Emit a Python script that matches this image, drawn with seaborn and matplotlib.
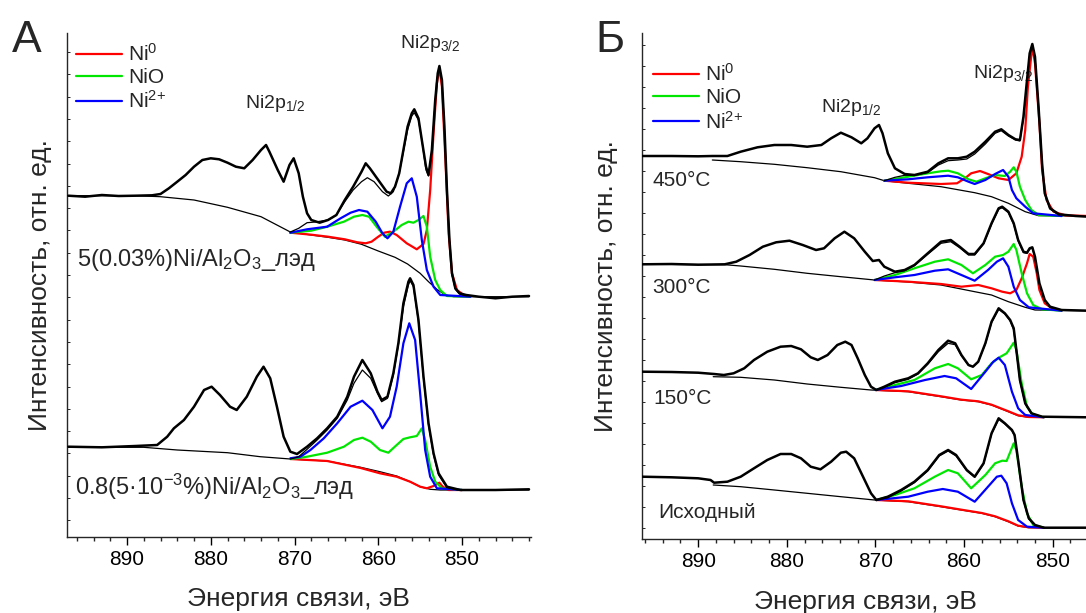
import matplotlib
matplotlib.use("Agg")
import numpy as np
import pandas as pd
import matplotlib.pyplot as plt
from matplotlib.ticker import MultipleLocator, FixedLocator
import seaborn as sns

# ---------------- data (binding energy eV, intensity a.u.) ----------------
# Panel A, upper spectrum: 5(0.03%)Ni/Al2O3
A1_raw = [(897, 341.0), (895, 340.0), (893, 341.7), (891, 340.7), (889, 341.0), (887, 341.4), (886, 342.7),
          (885, 348.4), (884, 355.0), (883, 361.7), (882, 370.0), (881, 376.7), (880, 378.4), (879, 377.4),
          (878, 374.0), (877, 370.0), (876, 368.4), (875, 376.7), (874, 386.7), (873.4, 391.7), (873, 385.0),
          (872, 366.7), (871.3, 355.0), (870.6, 371.7), (870.1, 378.4), (869.5, 363.4), (869, 340.0),
          (868.5, 323.4), (868, 316.7), (867, 314.0), (866, 316.7), (865, 321.7), (864, 336.7), (863, 350.0),
          (862, 365.0), (861.5, 373.4), (861, 368.4), (860, 356.7), (859, 345.0), (858.5, 343.4), (858, 350.0),
          (857.5, 363.4), (857, 386.7), (856.5, 410.0), (856, 423.4), (855.7, 427.4), (855.2, 418.4),
          (854.8, 396.7), (854.3, 370.0), (854.0, 361.7), (853.6, 386.7), (853.2, 436.7), (852.9, 463.4),
          (852.7, 470.7), (852.4, 456.7), (852.1, 410.0), (851.8, 346.7), (851.5, 296.7), (851.2, 263.4),
          (850.8, 248.4), (850.3, 243.4), (849.5, 241.7), (848, 240.0), (846, 238.4), (844, 240.0), (842, 240.7)]
A1_bg = [(897, 341.0), (889, 341.0), (886, 340.0), (882, 336.7), (878, 329.4), (874, 320.0), (870.5, 304.7),
         (868, 301.7), (866, 299.4), (864, 296.7), (862, 292.4), (860, 285.7), (858, 279.4), (856.5, 272.7),
         (855, 263.4), (854, 255.0), (853, 247.4), (852, 241.7), (851, 240.0), (842, 240.0)]
A1_env = [(870.5, 304.7), (869.5, 308.4), (868.5, 314.0), (867.5, 314.7), (866, 316.7), (865, 321.7), (864, 335.0),
          (863, 346.7), (862, 355.0), (861.3, 359.0), (860.5, 355.0), (859.5, 345.0), (858.8, 340.7), (858.2, 345.0),
          (857.5, 363.4), (857, 385.0), (856.5, 406.7), (856, 420.7), (855.7, 424.0), (855.2, 416.7), (854.8, 396.7),
          (854.3, 366.7), (854.0, 360.7), (853.6, 385.0), (853.2, 435.0), (852.9, 461.7), (852.7, 468.4),
          (852.4, 455.0), (852.1, 406.7), (851.8, 343.4), (851.5, 295.0), (851.2, 261.7), (850.8, 247.4),
          (850.3, 242.7), (849.5, 240.7)]
A1_ni0 = [(870.5, 304.0), (868, 302.0), (866, 300.0), (864, 297.4), (862.5, 294.4), (861.5, 293.4), (860.8, 295.0),
          (860.0, 300.0), (859.3, 304.0), (858.6, 305.0), (857.8, 301.7), (856.6, 293.4), (855.4, 287.4),
          (854.6, 292.7), (854.2, 306.7), (853.8, 346.7), (853.4, 403.4), (853.0, 453.4), (852.7, 468.4),
          (852.4, 450.0), (852.0, 380.0), (851.6, 303.4), (851.2, 263.4), (850.6, 246.7), (849.8, 241.7), (849, 240.0)]
A1_nio = [(870.5, 304.0), (868, 306.0), (866.1, 310.0), (864.1, 315.0), (862.9, 320.0), (861.9, 321.7), (861.1, 320.0),
          (860.2, 310.0), (859.2, 300.0), (858.2, 305.0), (857.2, 311.7), (856.4, 315.0), (855.8, 314.0),
          (855.2, 316.7), (854.6, 320.7), (854.2, 310.0), (853.8, 280.0), (853.2, 256.7), (852.6, 246.7),
          (851.8, 240.7), (849, 240.0)]
A1_ni2 = [(870.5, 304.0), (868.5, 307.4), (866.1, 310.0), (864.5, 318.4), (863.3, 324.0), (862.3, 326.7), (861.3, 325.0),
          (860.3, 315.0), (859.5, 303.4), (858.9, 298.4), (858.2, 305.0), (857.4, 330.0), (856.6, 353.4), (856.0, 358.4),
          (855.4, 340.0), (854.8, 296.7), (854.2, 266.7), (853.4, 250.0), (852.6, 241.7), (849, 240.0)]

# Panel A, lower spectrum: 0.8(5e-3%)Ni/Al2O3
A2_raw = [(897, 90.0), (893, 89.4), (889, 90.7), (886.4, 91.7), (885.2, 100.0), (884.4, 108.4), (883.2, 116.7),
          (882, 130.0), (880.8, 146.7), (879.9, 150.0), (878.9, 141.7), (877.7, 130.0), (876.9, 126.7), (875.7, 140.0),
          (874.5, 160.0), (873.7, 170.0), (872.9, 158.4), (872.1, 130.0), (871.3, 100.0), (870.5, 85.0), (869.7, 82.7),
          (868.5, 90.0), (867.3, 98.4), (866.1, 108.4), (864.9, 120.0), (863.7, 140.0), (862.9, 160.0), (861.9, 176.7),
          (860.9, 163.4), (860.1, 145.0), (859.6, 136.7), (858.9, 140.0), (858.2, 163.4), (857.6, 193.4), (857.0, 233.4),
          (856.4, 255.0), (856.2, 258.4), (855.8, 251.7), (855.2, 216.7), (854.6, 160.0), (854.0, 113.4), (853.4, 83.4),
          (852.8, 63.4), (851.8, 50.0), (850.2, 46.7), (846, 46.7), (842, 47.4)]
A2_bg = [(897, 89.4), (888, 89.4), (884, 86.7), (878, 84.0), (874.1, 80.0), (870.5, 77.7), (866.1, 75.7), (862.1, 69.4),
         (859.8, 65.0), (857.8, 60.7), (856.2, 55.0), (855.0, 50.0), (853.8, 47.4), (852.6, 46.7), (842, 46.7)]
A2_env = [(870.5, 77.7), (869.5, 80.0), (868.5, 87.4), (867.3, 96.7), (866.1, 106.7), (864.9, 118.4), (863.7, 136.7),
          (862.9, 153.4), (861.9, 166.7), (860.9, 158.4), (860.1, 143.4), (859.6, 135.0), (858.9, 138.4), (858.2, 161.7),
          (857.6, 191.7), (857.0, 230.0), (856.4, 251.7), (856.2, 256.0), (855.8, 250.0), (855.2, 215.0), (854.6, 158.4),
          (854.0, 111.7), (853.4, 81.7), (852.8, 61.7), (851.8, 49.0), (850.5, 46.7)]
A2_ni0 = [(870.5, 77.7), (866.1, 75.7), (862.1, 68.7), (859.8, 63.4), (857.8, 60.0), (856.2, 55.0), (855.0, 50.0),
          (854.2, 48.4), (853.4, 50.7), (852.7, 54.0), (852.3, 50.0), (851.6, 46.7), (850, 46.7)]
A2_nio = [(870.5, 77.7), (868.5, 80.0), (866.1, 84.0), (864.1, 90.0), (862.9, 96.7), (861.9, 99.0), (860.9, 95.0),
          (859.8, 86.7), (858.8, 84.0), (857.8, 91.7), (857.0, 97.7), (856.2, 99.4), (855.4, 100.7), (854.8, 108.4),
          (854.4, 96.7), (853.8, 70.0), (853.2, 55.0), (852.4, 48.4), (850, 46.7)]
A2_ni2 = [(870.5, 78.4), (869.3, 80.0), (868.1, 86.7), (866.5, 98.4), (864.9, 113.4), (863.3, 130.0), (861.9, 136.0),
          (860.7, 126.7), (859.5, 108.4), (858.6, 120.0), (857.8, 150.0), (857.0, 193.4), (856.3, 213.4), (855.6, 196.7),
          (855.0, 143.4), (854.4, 86.7), (853.8, 60.0), (853.0, 48.4), (850, 46.7)]

# Panel B: 450 C
B1_raw = [(896.3, 383.3), (893, 383.3), (890, 383.0), (888.4, 383.3), (886.7, 383.3), (885.2, 387.6), (883.3, 392.0),
          (881.4, 394.3), (879.5, 394.3), (877.7, 392.6), (876.1, 394.3), (875.0, 401.0), (873.9, 406.6), (872.7, 402.0),
          (871.6, 396.0), (870.9, 401.0), (870.1, 411.0), (869.6, 414.3), (869.2, 406.0), (868.6, 386.0), (867.8, 371.0),
          (866.7, 365.3), (865.6, 364.3), (864.1, 367.6), (862.9, 376.0), (861.8, 381.0), (860.7, 381.0), (859.7, 382.6),
          (858.8, 387.6), (857.6, 397.6), (856.5, 407.6), (855.8, 410.0), (855.0, 404.3), (854.2, 400.0), (853.7, 399.3),
          (853.3, 422.6), (852.9, 459.3), (852.6, 486.0), (852.3, 495.3), (852.0, 482.6), (851.6, 432.6), (851.2, 376.0),
          (850.9, 346.0), (850.3, 331.0), (849.3, 325.0), (847.4, 323.3), (846.0, 322.6)]
B1_bg = [(888.4, 379.3), (885.2, 377.6), (881.4, 375.0), (877.7, 371.6), (873.9, 367.6), (870.1, 361.6), (869.0, 358.6),
         (866.3, 356.0), (862.6, 352.6), (858.8, 346.6), (856.9, 342.6), (855.0, 336.0), (853.1, 327.6), (851.6, 323.6),
         (846.0, 323.3)]
B1_env = [(869.0, 358.6), (867.8, 362.0), (866.7, 364.0), (865.6, 364.0), (864.1, 366.6), (862.9, 374.3), (861.8, 378.6),
          (860.7, 379.3), (859.7, 380.3), (858.8, 385.3), (857.6, 395.3), (856.5, 406.0), (855.8, 408.6), (855.0, 403.3),
          (854.2, 399.3), (853.7, 398.3), (853.3, 421.0), (852.9, 457.6), (852.6, 484.3), (852.3, 494.0), (852.0, 481.0),
          (851.6, 431.0), (851.2, 374.3), (850.9, 345.3), (850.3, 330.3), (849.3, 324.3)]
B1_ni0 = [(869.0, 358.6), (866.3, 356.6), (862.6, 355.3), (860.8, 356.0), (859.9, 361.0), (859.2, 366.0), (858.2, 368.3),
          (857.3, 365.3), (856.1, 361.0), (855.0, 359.3), (854.1, 366.0), (853.5, 382.6), (853.1, 409.3), (852.8, 452.6),
          (852.3, 493.3), (852.0, 476.0), (851.5, 416.0), (851.2, 369.3), (850.7, 339.3), (849.9, 327.6), (848.6, 324.0),
          (846.0, 323.3)]
B1_nio = [(869.0, 358.6), (866.3, 362.6), (864.1, 366.0), (862.6, 368.0), (861.8, 368.6), (860.7, 366.0), (859.5, 360.0),
          (858.6, 357.6), (857.6, 361.0), (856.5, 364.3), (855.4, 363.3), (854.8, 367.6), (854.4, 372.0), (854.1, 367.6),
          (853.7, 352.6), (853.1, 339.3), (852.4, 329.3), (851.6, 324.3), (849, 323.3)]
B1_ni2 = [(869.0, 358.6), (866.3, 360.0), (864.1, 362.0), (861.8, 363.6), (860.7, 362.0), (859.5, 357.6), (858.8, 355.3),
          (857.6, 359.3), (856.5, 365.3), (855.6, 369.3), (855.0, 362.6), (854.6, 349.3), (854.1, 341.0), (853.1, 332.6),
          (852.2, 326.0), (849, 323.3)]

# Panel B: 300 C
B2_raw = [(896.3, 275.0), (893, 275.3), (890, 274.6), (887, 275.0), (885.7, 277.6), (884.2, 284.3), (882.7, 292.6),
          (881.2, 297.0), (879.7, 298.6), (878.2, 294.3), (876.7, 289.3), (875.8, 291.0), (874.6, 301.0), (873.5, 307.6),
          (872.4, 301.0), (871.2, 287.6), (870.3, 278.3), (869.6, 279.3), (869.0, 272.6), (867.8, 267.6), (866.7, 269.3),
          (865.6, 274.3), (864.1, 286.0), (862.6, 297.6), (861.5, 299.3), (860.5, 292.6), (859.5, 285.3), (858.8, 285.3),
          (857.8, 296.0), (856.9, 316.0), (856.1, 331.0), (855.7, 332.6), (855.0, 327.6), (854.4, 316.0), (853.9, 299.3),
          (853.3, 287.6), (852.9, 286.6), (852.6, 291.0), (852.3, 292.0), (852.0, 282.6), (851.5, 256.0), (850.9, 239.3),
          (850.3, 232.6), (849.0, 229.3), (846.0, 228.6)]
B2_bg = [(896.3, 275.0), (887, 274.6), (885.2, 273.3), (881.4, 270.0), (877.7, 266.0), (873.9, 262.6), (870.1, 259.3),
         (866.3, 257.3), (862.6, 254.3), (858.8, 247.6), (856.9, 244.3), (855.0, 237.6), (853.1, 232.0), (852.0, 229.3),
         (846.0, 228.6)]
B2_env = [(870.1, 259.3), (869.0, 263.3), (867.8, 266.6), (866.7, 268.6), (865.6, 273.6), (864.1, 285.0), (862.6, 296.0),
          (861.5, 297.6), (860.5, 291.6), (859.5, 284.3), (858.8, 284.3), (857.8, 295.3), (856.9, 315.0), (856.1, 330.0),
          (855.7, 331.6), (855.0, 326.6), (854.4, 315.0), (853.9, 298.3), (853.3, 286.6), (852.9, 286.0), (852.6, 290.3),
          (852.3, 291.0), (852.0, 281.6), (851.5, 255.3), (850.9, 238.6), (850.3, 232.0), (849.0, 229.0)]
B2_ni0 = [(870.1, 259.3), (866.3, 257.6), (862.6, 255.3), (860.3, 252.6), (858.4, 254.3), (856.9, 251.0), (855.7, 247.6),
          (854.8, 246.0), (854.1, 249.3), (853.5, 261.0), (852.9, 276.0), (852.6, 285.3), (852.2, 282.6), (851.8, 266.0),
          (851.5, 249.3), (850.9, 236.0), (850.1, 231.0), (849, 228.6)]
B2_nio = [(870.1, 259.3), (867.8, 264.3), (865.6, 271.0), (863.3, 277.6), (861.8, 280.0), (860.3, 274.3), (859.0, 266.0),
          (857.6, 274.3), (856.5, 282.6), (855.6, 284.3), (855.0, 287.6), (854.4, 295.3), (854.1, 289.3), (853.5, 266.0),
          (852.9, 246.0), (852.2, 234.3), (851.2, 230.0), (849, 228.6)]
B2_ni2 = [(870.1, 259.3), (867.8, 262.0), (865.6, 264.3), (863.3, 268.6), (861.8, 270.0), (860.3, 264.3), (858.8, 258.6),
          (857.3, 269.3), (856.3, 277.6), (855.6, 281.0), (855.0, 272.6), (854.4, 252.6), (853.7, 239.3), (852.7, 232.0),
          (849, 228.6)]

# Panel B: 150 C
B3_raw = [(896.3, 167.6), (893, 167.3), (890, 166.6), (888.2, 165.3), (887.1, 164.3), (886.0, 166.0), (884.8, 171.0),
          (883.7, 179.3), (882.2, 187.6), (880.7, 192.6), (879.5, 193.3), (878.4, 190.0), (877.3, 182.0), (876.5, 179.3),
          (875.4, 184.3), (874.3, 194.3), (873.4, 197.6), (872.7, 194.3), (872.0, 181.0), (871.2, 164.3), (870.5, 152.6),
          (869.9, 149.3), (869.0, 152.6), (867.8, 157.6), (866.3, 161.0), (865.2, 166.0), (864.1, 176.0), (862.9, 189.3),
          (861.8, 198.6), (861.0, 196.0), (860.3, 184.3), (859.5, 174.3), (859.0, 172.6), (858.4, 177.6), (857.6, 196.0),
          (856.9, 217.6), (856.1, 231.0), (855.4, 226.0), (854.8, 219.3), (854.4, 211.0), (854.1, 189.3), (853.7, 159.3),
          (853.1, 136.0), (852.4, 126.0), (851.2, 122.6), (846.0, 122.0)]
B3_bg = [(888.3, 162.6), (885.2, 162.0), (881.4, 159.3), (877.7, 155.3), (873.9, 152.0), (870.5, 149.3), (866.3, 147.6),
         (862.6, 142.6), (860.3, 139.3), (858.4, 137.6), (856.9, 134.3), (855.0, 127.6), (853.9, 123.6), (852.7, 122.0),
         (846, 122.0)]
B3_env = [(869.9, 149.3), (869.0, 152.0), (867.8, 156.6), (866.3, 160.0), (865.2, 165.3), (864.1, 175.0), (862.9, 187.6),
          (861.8, 196.0), (861.0, 194.6), (860.3, 183.6), (859.5, 174.0), (859.0, 172.6), (858.4, 177.6), (857.6, 195.3),
          (856.9, 216.6), (856.1, 230.0), (855.4, 225.3), (854.8, 218.3), (854.4, 209.3), (854.1, 187.6), (853.7, 158.3),
          (853.1, 135.3), (852.4, 126.0), (851.2, 122.6)]
B3_ni0 = [(870.0, 149.3), (866.3, 148.0), (862.6, 143.0), (860.3, 139.6), (858.4, 138.0), (856.9, 134.6), (855.0, 128.0),
          (853.9, 124.0), (852.7, 122.3), (851.0, 122.0)]
B3_nio = [(870.0, 149.3), (867.8, 154.3), (865.6, 159.3), (863.3, 171.0), (861.8, 175.3), (860.7, 171.0), (859.2, 160.0),
          (858.0, 164.3), (856.9, 176.0), (856.0, 182.0), (855.2, 186.0), (854.4, 196.6), (854.1, 189.3), (853.5, 156.0),
          (852.9, 132.6), (852.2, 124.3), (851, 122.0)]
B3_ni2 = [(870.0, 149.3), (867.1, 153.3), (864.4, 159.3), (862.2, 163.3), (860.9, 161.0), (859.2, 150.3), (857.6, 167.6),
          (856.7, 177.6), (856.1, 181.6), (855.4, 174.3), (854.6, 147.6), (853.9, 131.0), (853.1, 124.3), (851, 122.0)]

# Panel B: initial sample
B4_raw = [(896.3, 62.6), (893, 62.0), (890, 61.0), (888.6, 59.3), (888.2, 56.6), (886.7, 57.6), (885.2, 62.6),
          (883.7, 71.0), (882.2, 79.3), (880.7, 85.3), (879.5, 85.3), (878.4, 81.0), (877.3, 72.6), (876.2, 70.0),
          (875.0, 77.6), (873.9, 86.6), (873.3, 87.6), (872.4, 81.0), (871.4, 62.6), (870.5, 46.0), (869.9, 39.3),
          (868.6, 42.6), (867.1, 49.3), (865.6, 57.6), (864.1, 69.3), (862.8, 84.3), (861.8, 89.3), (860.9, 84.3),
          (859.7, 69.3), (858.8, 62.6), (857.8, 76.0), (856.9, 106.0), (856.1, 121.0), (855.4, 116.0), (854.6, 109.3),
          (854.3, 104.3), (853.9, 79.3), (853.3, 39.3), (852.7, 21.0), (852.0, 14.3), (851.0, 11.6), (846.0, 11.6)]
B4_bg = [(888.3, 54.3), (885.2, 52.6), (881.4, 49.3), (877.7, 46.0), (873.9, 42.6), (870.1, 39.3), (866.3, 37.6),
         (862.6, 32.6), (860.3, 29.3), (858.0, 26.0), (856.5, 22.6), (855.0, 17.6), (853.9, 13.3), (852.7, 11.6), (846, 11.6)]
B4_env = [(869.9, 39.3), (868.6, 41.6), (867.1, 48.3), (865.6, 56.6), (864.1, 68.3), (862.8, 83.3), (861.8, 88.3),
          (860.9, 83.3), (859.7, 68.6), (858.8, 62.0), (857.8, 75.3), (856.9, 105.3), (856.1, 120.0), (855.4, 115.3),
          (854.6, 108.6), (854.3, 103.3), (853.9, 78.3), (853.3, 38.6), (852.7, 20.3), (852.0, 13.6), (851.0, 11.6)]
B4_ni0 = [(869.9, 39.3), (866.3, 38.0), (862.6, 33.0), (860.3, 29.6), (858.0, 26.3), (856.5, 23.0), (855.0, 18.0),
          (853.9, 13.6), (852.7, 12.0), (851.0, 11.6)]
B4_nio = [(869.9, 39.3), (867.8, 44.3), (865.6, 51.0), (863.3, 62.6), (861.8, 69.3), (860.7, 66.0), (859.2, 51.0),
          (857.6, 64.3), (856.5, 76.0), (855.7, 78.6), (855.2, 78.3), (854.4, 96.0), (854.1, 89.3), (853.5, 52.6),
          (852.9, 26.0), (852.2, 14.3), (851, 11.6)]
B4_ni2 = [(869.9, 39.3), (866.3, 42.6), (864.1, 47.6), (862.4, 50.3), (860.7, 47.6), (858.8, 37.6), (857.3, 52.6),
          (856.3, 62.6), (855.8, 63.6), (855.2, 56.0), (854.6, 36.0), (853.9, 19.3), (852.9, 12.6), (851, 11.6)]

component_labels = ["Ni$^{0}$", "NiO", "Ni$^{2{+}}$"]
component_colors = ["#ff0000", "#00e600", "#0000ff"]
xticks_major = [890, 880, 870, 860, 850]
labels_A = ["5(0.03%)Ni/Al$_2$O$_3$_лэд", "0.8(5·10$^{-3}$%)Ni/Al$_2$O$_3$_лэд"]
labels_B = ["450°C", "300°C", "150°C", "Исходный"]

# ---------------- style ----------------
sns.set_style("ticks")
plt.rcParams['font.family'] = ['Liberation Sans', 'DejaVu Sans']
plt.rcParams['mathtext.fontset'] = 'custom'
plt.rcParams['mathtext.rm'] = 'Liberation Sans'
plt.rcParams['mathtext.it'] = 'Liberation Sans:italic'
plt.rcParams['mathtext.bf'] = 'Liberation Sans:bold'
plt.rcParams['mathtext.sf'] = 'Liberation Sans'
plt.rcParams['axes.linewidth'] = 1.0

W, H = 1086, 613
fig = plt.figure(figsize=(W / 100, H / 100), dpi=100)
fig.patch.set_facecolor('white')
axA = fig.add_axes([66.7 / W, (H - 536.7) / H, 464 / W, 503.7 / H])
axB = fig.add_axes([642.3 / W, (H - 539.3) / H, (W - 642.3) / W + 0.002, 506.3 / H])


def curve(ax, pts, color, lw, z, label='_nolegend_'):
    df = pd.DataFrame(pts, columns=['E', 'I'])
    sns.lineplot(data=df, x='E', y='I', ax=ax, color=color, linewidth=lw, sort=False,
                 estimator=None, zorder=z, label=label, legend=False)


def spectrum(ax, raw, bg, env, comps, first=False):
    curve(ax, bg, 'black', 0.9, 2)
    for i, c in enumerate(comps):
        curve(ax, c, component_colors[i], 1.6, 3, component_labels[i] if first else '_nolegend_')
    curve(ax, env, 'black', 0.9, 4)
    curve(ax, raw, 'black', 1.8, 5)


spectrum(axA, A1_raw, A1_bg, A1_env, [A1_ni0, A1_nio, A1_ni2], first=True)
spectrum(axA, A2_raw, A2_bg, A2_env, [A2_ni0, A2_nio, A2_ni2])
spectrum(axB, B1_raw, B1_bg, B1_env, [B1_ni0, B1_nio, B1_ni2], first=True)
spectrum(axB, B2_raw, B2_bg, B2_env, [B2_ni0, B2_nio, B2_ni2])
spectrum(axB, B3_raw, B3_bg, B3_env, [B3_ni0, B3_nio, B3_ni2])
spectrum(axB, B4_raw, B4_bg, B4_env, [B4_ni0, B4_nio, B4_ni2])

axA.set_xlim(897.2, 841.8)
axA.set_ylim(0, 503.7)
axB.set_xlim(896.3, 846.0)
axB.set_ylim(0, 506.3)

for ax in (axA, axB):
    sns.despine(ax=ax, top=True, right=True)
    ax.xaxis.set_major_locator(FixedLocator(xticks_major))
    ax.xaxis.set_minor_locator(MultipleLocator(2))
    ax.tick_params(axis='x', which='major', direction='out', length=6, width=1.0, labelsize=15, pad=3.5,
                   colors='black')
    ax.tick_params(axis='x', which='minor', direction='out', length=3, width=1.0)
    ax.tick_params(axis='y', which='both', direction='in', length=2, width=0.7, labelleft=False)
    ax.set_xlabel('Энергия связи, эВ', fontsize=19, labelpad=13)
    ax.set_ylabel('Интенсивность, отн. ед.', fontsize=19)
    ax.set_facecolor('white')

axA.yaxis.set_major_locator(FixedLocator(np.arange(16.4, 500, 22.3)))
axB.yaxis.set_major_locator(FixedLocator(np.arange(11, 500, 21)))
axA.yaxis.set_label_coords(-0.031, 0.5)
axB.yaxis.set_label_coords(-0.055, 0.5)

leg_kw = dict(loc='upper left', frameon=False, fontsize=15, handlelength=2.2, handletextpad=0.3,
              labelspacing=0.15, borderaxespad=0, borderpad=0)
axA.legend(bbox_to_anchor=(0.02, 0.98), **leg_kw)
axB.legend(bbox_to_anchor=(0.024, 0.94), **leg_kw)

# annotations (data coordinates)
axA.text(857.37, 488.7, 'Ni2p$_{3/2}$', fontsize=14, ha='left', va='baseline')
axA.text(875.87, 428.7, 'Ni2p$_{1/2}$', fontsize=14, ha='left', va='baseline')
axA.text(895.93, 270.7, labels_A[0], fontsize=17, ha='left', va='baseline')
axA.text(896.17, 41.7, labels_A[1], fontsize=17, ha='left', va='baseline')

axB.text(858.94, 461.3, 'Ni2p$_{3/2}$', fontsize=14, ha='left', va='baseline')
axB.text(876.15, 427.3, 'Ni2p$_{1/2}$', fontsize=14, ha='left', va='baseline')
for lab, (e, v) in zip(labels_B, [(895.18, 353.3), (895.18, 246.3), (895.06, 135.3), (894.5, 21.3)]):
    axB.text(e, v, lab, fontsize=15, ha='left', va='baseline')

fig.text(12 / W, 1 - 52 / H, 'А', fontsize=32, ha='left', va='baseline')
fig.text(595 / W, 1 - 52 / H, 'Б', fontsize=32, ha='left', va='baseline')

fig.savefig('out.png', dpi=100, facecolor='white')
